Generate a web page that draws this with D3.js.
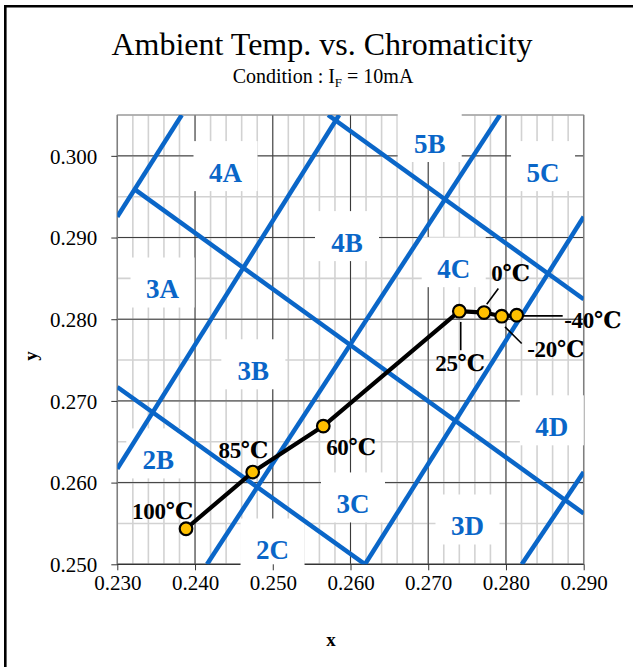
<!DOCTYPE html>
<html><head><meta charset="utf-8">
<script src="https://cdn.jsdelivr.net/npm/d3@7/dist/d3.min.js"></script>
<style>
html,body{margin:0;padding:0;background:#fff;}
svg{display:block;}
</style></head>
<body>
<svg id="chart" width="633" height="667"></svg>
<script>
// ---- data ----
const xTicks = [0.230, 0.240, 0.250, 0.260, 0.270, 0.280, 0.290];
const yTicks = [0.250, 0.260, 0.270, 0.280, 0.290, 0.300];
const temps = ["100℃", "85℃", "60℃", "25℃", "0℃", "-20℃", "-40℃"];
const chromX = [0.23884, 0.24742, 0.25650, 0.27400, 0.27718, 0.27945, 0.28138];
const chromY = [0.25435, 0.26129, 0.26692, 0.28098, 0.28082, 0.28037, 0.28049];
// bin boundary segments [x1, y1, x2, y2]
const binLines = [
  [0.2300, 0.29254, 0.23829, 0.305],
  [0.2300, 0.26170, 0.25854, 0.305],
  [0.24154, 0.250, 0.27923, 0.305],
  [0.26187, 0.250, 0.2900, 0.29254],
  [0.28203, 0.250, 0.2900, 0.26129],
  [0.23224, 0.29590, 0.2900, 0.25622],
  [0.25711, 0.305, 0.2900, 0.28244],
  [0.2300, 0.27170, 0.26187, 0.250]
];
const binNames = ["4A", "3A", "4B", "5B", "5C", "4C", "3B", "2B", "2C", "3C", "3D", "4D"];
const binX = [0.24392, 0.23582, 0.25955, 0.27019, 0.28477, 0.27328, 0.24750, 0.23527, 0.24997, 0.26032, 0.27505, 0.28590];
const binY = [0.29801, 0.28376, 0.28944, 0.30157, 0.29801, 0.28625, 0.27375, 0.26284, 0.25181, 0.25745, 0.25475, 0.26689];

// ---- layout ----
const svg = d3.select("#chart");
const L = 117.3, R = 583.7, T = 115, B = 564.3;
const x = d3.scaleLinear().domain([0.23, 0.29]).range([L, R]);
const y = d3.scaleLinear().domain([0.25, 0.305]).range([B, T]);
const serif = "'Liberation Serif','Times New Roman','DejaVu Serif','Noto Sans CJK JP',serif";
const blue = "#0a66c8";

// frame
svg.append("path").attr("d", `M5.3,667 V6.2 H633`).attr("fill", "none")
  .attr("stroke", "#000").attr("stroke-width", 2.6);

// title
svg.append("text").attr("x", 322).attr("y", 55).attr("text-anchor", "middle")
  .attr("font-family", serif).attr("font-size", 32).text("Ambient Temp. vs. Chromaticity");
const sub = svg.append("text").attr("x", 323).attr("y", 83).attr("text-anchor", "middle")
  .attr("font-family", serif).attr("font-size", 20);
sub.append("tspan").text("Condition : I");
sub.append("tspan").attr("font-size", 13).attr("dy", 4).text("F");
sub.append("tspan").attr("dy", -4).text(" = 10mA");

// grid
const g = svg.append("g");
const minorX = d3.range(0, 31).map(i => 0.23 + i * 0.002);
const minorY = d3.range(0, 12).map(i => 0.25 + i * 0.005);
g.selectAll(".mx").data(minorX).join("line")
  .attr("x1", d => x(d)).attr("x2", d => x(d)).attr("y1", T).attr("y2", B)
  .attr("stroke", "#d2d2d2").attr("stroke-width", 1.6);
g.selectAll(".my").data(minorY).join("line")
  .attr("x1", L).attr("x2", R).attr("y1", d => y(d)).attr("y2", d => y(d))
  .attr("stroke", "#d2d2d2").attr("stroke-width", 1.6);
g.selectAll(".Mx").data(xTicks).join("line")
  .attr("x1", d => x(d)).attr("x2", d => x(d)).attr("y1", T).attr("y2", B)
  .attr("stroke", "#3a3a3a").attr("stroke-width", 1);
g.selectAll(".My").data(yTicks).join("line")
  .attr("x1", L).attr("x2", R).attr("y1", d => y(d)).attr("y2", d => y(d))
  .attr("stroke", "#3a3a3a").attr("stroke-width", 1);
g.append("rect").attr("x", L).attr("y", T).attr("width", R - L).attr("height", B - T)
  .attr("fill", "none").attr("stroke", "#8a8a8a").attr("stroke-width", 1);
g.append("line").attr("x1", L).attr("x2", R).attr("y1", B).attr("y2", B).attr("stroke", "#222");

// label boxes (white) over grid
svg.append("g").selectAll("rect").data(binNames).join("rect")
  .attr("x", (d, i) => x(binX[i]) - 32).attr("y", (d, i) => y(binY[i]) - 31)
  .attr("width", 64).attr("height", 50).attr("fill", "#fff");

// axes
const xa = svg.append("g").attr("transform", `translate(0,${B})`)
  .call(d3.axisBottom(x).tickValues(xTicks).tickFormat(d3.format(".3f")).tickSize(6).tickPadding(5));
const ya = svg.append("g").attr("transform", `translate(${L},0)`)
  .call(d3.axisLeft(y).tickValues(yTicks).tickFormat(d3.format(".3f")).tickSize(6).tickPadding(14));
[xa, ya].forEach(a => {
  a.select(".domain").remove();
  a.selectAll(".tick line").attr("stroke", "#333");
  a.selectAll(".tick text").attr("font-family", serif).attr("font-size", 21).attr("fill", "#000");
});
ya.selectAll(".tick text").attr("dy", "0.35em");

// axis titles
svg.append("text").attr("x", 331).attr("y", 646).attr("text-anchor", "middle")
  .attr("font-family", serif).attr("font-weight", "bold").attr("font-size", 19).text("x");
svg.append("text").attr("transform", "translate(37,356) rotate(-90)").attr("text-anchor", "middle")
  .attr("font-family", serif).attr("font-weight", "bold").attr("font-size", 19).text("y");

// bin lines (clipped)
svg.append("clipPath").attr("id", "clip").append("rect")
  .attr("x", L).attr("y", T).attr("width", R - L).attr("height", B - T);
svg.append("g").attr("clip-path", "url(#clip)").selectAll("line").data(binLines).join("line")
  .attr("x1", d => x(d[0])).attr("y1", d => y(d[1])).attr("x2", d => x(d[2])).attr("y2", d => y(d[3]))
  .attr("stroke", blue).attr("stroke-width", 4.5);

// bin labels
svg.append("g").selectAll("text").data(binNames).join("text")
  .attr("x", (d, i) => x(binX[i])).attr("y", (d, i) => y(binY[i]) + 9.5)
  .attr("text-anchor", "middle").attr("font-family", serif).attr("font-weight", "bold")
  .attr("font-size", 27).attr("fill", blue).text(d => d);

// chromaticity line
const pts = chromX.map((v, i) => [v, chromY[i]]);
svg.append("path").datum(pts).attr("d", d3.line().x(d => x(d[0])).y(d => y(d[1])))
  .attr("fill", "none").attr("stroke", "#000").attr("stroke-width", 4.2).attr("stroke-linejoin", "round");

// leader lines and temp labels (offsets in px from point)
const lab = [
  {dx: -23.5, dy: -18, lead: null},
  {dx: -9.4, dy: -21.7, lead: null},
  {dx: 27.7, dy: 21, lead: null},
  {dx: 0.7, dy: 52, lead: [1.4, 10.7, 1.4, 39]},
  {dx: 26.5, dy: -40, lead: [2.7, -8.3, 14.3, -24]},
  {dx: 54, dy: 33, lead: [3.3, 10.7, 20, 27.3]},
  {dx: 76, dy: 5, lead: [4, 0.7, 46, 0.7]}
];
const lg = svg.append("g");
lab.forEach((o, i) => {
  const px = x(chromX[i]), py = y(chromY[i]);
  if (o.lead) lg.append("line").attr("x1", px + o.lead[0]).attr("y1", py + o.lead[1])
    .attr("x2", px + o.lead[2]).attr("y2", py + o.lead[3]).attr("stroke", "#000").attr("stroke-width", 1.6);
});
svg.append("g").selectAll("circle").data(pts).join("circle")
  .attr("cx", d => x(d[0])).attr("cy", d => y(d[1])).attr("r", 6.3)
  .attr("fill", "#ffc000").attr("stroke", "#000").attr("stroke-width", 2.2);
svg.append("g").selectAll("text").data(temps).join("text")
  .attr("x", (d, i) => x(chromX[i]) + lab[i].dx).attr("y", (d, i) => y(chromY[i]) + lab[i].dy + 8)
  .attr("text-anchor", "middle").attr("font-family", serif).attr("font-weight", "bold")
  .attr("font-size", 23).attr("fill", "#000").attr("letter-spacing", -0.3).text(d => d);
</script>
</body></html>
